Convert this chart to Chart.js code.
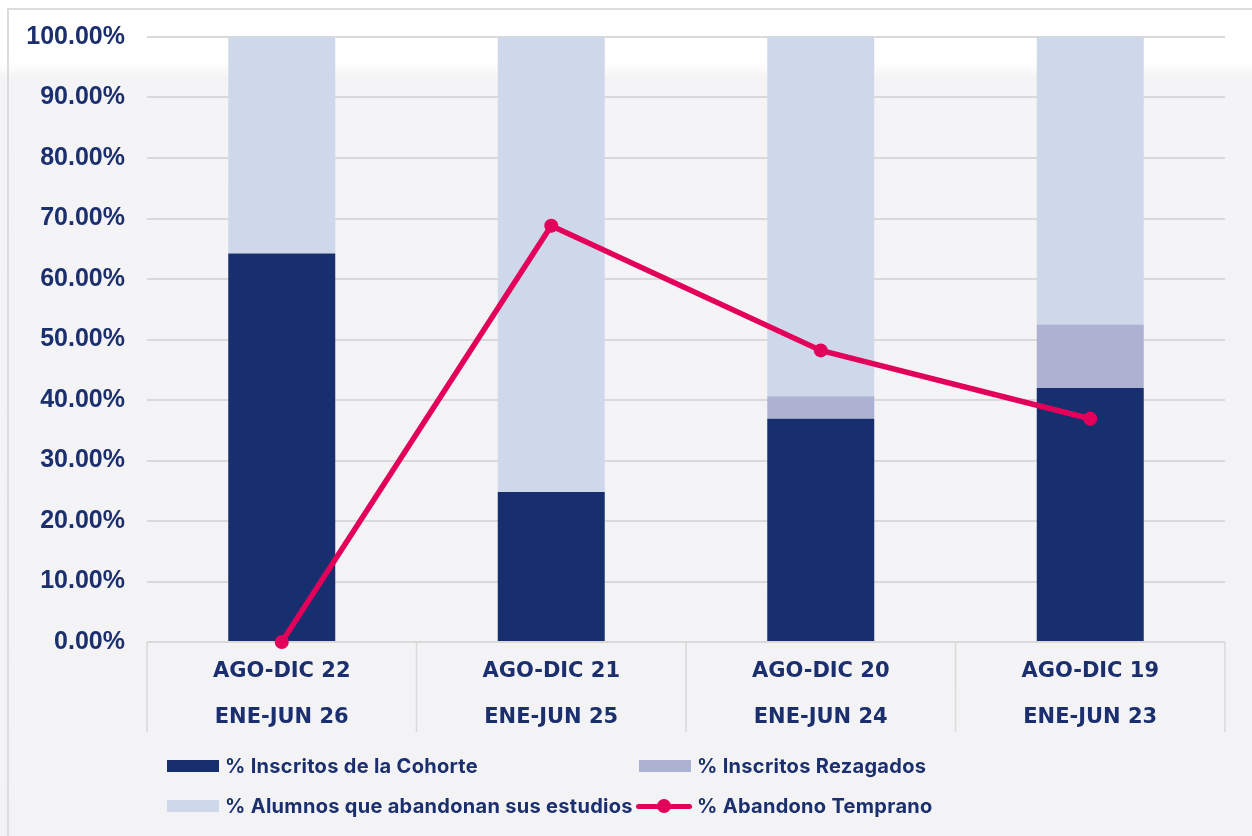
<!DOCTYPE html>
<html>
<head>
<meta charset="utf-8">
<script src="https://cdn.jsdelivr.net/npm/chart.js@4.4.1/dist/chart.umd.min.js"></script>
<style>
  html, body { margin: 0; padding: 0; }
  body {
    width: 1252px; height: 836px; overflow: hidden; position: relative;
    background: linear-gradient(180deg, #ffffff 0px, #ffffff 62px, #f4f4f6 78px, #f3f3f5 836px);
    font-family: "Inter", "Liberation Sans", sans-serif;
  }
  #frame { position: absolute; left: 7px; top: 8px; width: 1300px; height: 900px;
    border-left: 2px solid #dcdcdc; border-top: 2px solid #dcdcdc; }
  #wrap { position: absolute; left: 0; top: 0; width: 1252px; height: 836px; }
  .lg { position: absolute; display: flex; align-items: center; height: 30px;
    font: 700 20px "Inter", sans-serif; letter-spacing: 0.3px; color: #1b2f6e; white-space: nowrap; }
  .sw { width: 52px; height: 12px; margin-right: 6px; flex: none; }
  .ln { position: relative; width: 56px; height: 14px; margin-right: 5px; flex: none; }
  .ln::before { content: ""; position: absolute; left: 0; right: 0; top: 5px; height: 5px; background: #e2005a; border-radius: 3px; }
  .ln::after { content: ""; position: absolute; left: 21px; top: 0; width: 14px; height: 14px; border-radius: 50%; background: #e2005a; }
</style>
</head>
<body>
<div id="frame"></div>
<div id="wrap"><canvas id="c" width="1252" height="836"></canvas></div>
<div id="legend"></div>
<script>
const categories = [["AGO-DIC 22", "ENE-JUN 26"], ["AGO-DIC 21", "ENE-JUN 25"], ["AGO-DIC 20", "ENE-JUN 24"], ["AGO-DIC 19", "ENE-JUN 23"]];
const inscritosCohorte = [64.2, 24.8, 36.9, 42.0];
const inscritosRezagados = [0, 0, 3.7, 10.5];
const alumnosAbandonan = [35.8, 75.2, 59.4, 47.5];
const abandonoTemprano = [0, 68.8, 48.2, 36.9];
const seriesNames = ["% Inscritos de la Cohorte", "% Inscritos Rezagados", "% Alumnos que abandonan sus estudios", "% Abandono Temprano"];
const yTicks = [0, 10, 20, 30, 40, 50, 60, 70, 80, 90, 100];

const NAVY = "#172f6e", REZ = "#adb1d2", LIGHT = "#cfd8ea", PINK = "#e2005a", TXT = "#1b2f6e", GRID = "#d9d9d9";

// Draws the category separators below the x axis (at category boundaries from the x scale)
const separators = {
  id: "separators",
  beforeDatasetsDraw(chart) {
    const x = chart.scales.x, ctx = chart.ctx, top = chart.chartArea.bottom;
    const n = chart.data.labels.length;
    ctx.save();
    ctx.strokeStyle = GRID;
    ctx.lineWidth = 1.5;
    for (let i = 0; i <= n; i++) {
      let px;
      if (i === 0) px = x.getPixelForValue(0) - (x.getPixelForValue(1) - x.getPixelForValue(0)) / 2;
      else if (i === n) px = x.getPixelForValue(n - 1) + (x.getPixelForValue(n - 1) - x.getPixelForValue(n - 2)) / 2;
      else px = (x.getPixelForValue(i - 1) + x.getPixelForValue(i)) / 2;
      ctx.beginPath();
      ctx.moveTo(px, top);
      ctx.lineTo(px, top + 90);
      ctx.stroke();
    }
    ctx.restore();
  }
};

new Chart(document.getElementById("c"), {
  type: "bar",
  data: {
    labels: categories,
    datasets: [
      { type: "line", label: seriesNames[3], data: abandonoTemprano, borderColor: PINK, backgroundColor: PINK,
        borderWidth: 5.5, pointRadius: 7, pointHoverRadius: 7, pointBackgroundColor: PINK, pointBorderWidth: 0,
        tension: 0, order: 0, stack: "line", clip: false },
      { label: seriesNames[0], data: inscritosCohorte, backgroundColor: NAVY, order: 1, stack: "s" },
      { label: seriesNames[1], data: inscritosRezagados, backgroundColor: REZ, order: 1, stack: "s" },
      { label: seriesNames[2], data: alumnosAbandonan, backgroundColor: LIGHT, order: 1, stack: "s" }
    ]
  },
  options: {
    responsive: false,
    animation: false,
    layout: { padding: { left: 0, right: 27, top: 37, bottom: 88 } },
    datasets: { bar: { barPercentage: 0.397, categoryPercentage: 1 } },
    plugins: { legend: { display: false }, tooltip: { enabled: false } },
    scales: {
      x: {
        stacked: true,
        border: { display: false },
        grid: { offset: true, drawOnChartArea: false, drawTicks: false },
        ticks: { color: TXT, padding: 7, font: { family: "DejaVu Sans", weight: "bold", size: 21, lineHeight: 46 / 21 }, maxRotation: 0, autoSkip: false }
      },
      y: {
        stacked: true,
        min: 0, max: 100,
        afterFit: (s) => { s.width = 147; },
        afterBuildTicks: (s) => { s.ticks = yTicks.map(v => ({ value: v })); },
        border: { display: false },
        grid: { color: GRID, lineWidth: 2, drawTicks: false },
        ticks: { color: TXT, padding: 22, font: { family: "Liberation Sans", weight: "bold", size: 25 },
          callback: (v) => Number(v).toFixed(2) + "%" }
      }
    }
  },
  plugins: [separators]
});

const legendItems = [
  { name: seriesNames[0], kind: "box", color: NAVY, left: 167, top: 751 },
  { name: seriesNames[1], kind: "box", color: REZ, left: 639, top: 751 },
  { name: seriesNames[2], kind: "box", color: LIGHT, left: 167, top: 791 },
  { name: seriesNames[3], kind: "line", color: PINK, left: 636, top: 791 }
];
const lg = document.getElementById("legend");
legendItems.forEach(it => {
  const d = document.createElement("div");
  d.className = "lg";
  d.style.left = it.left + "px";
  d.style.top = it.top + "px";
  const sw = document.createElement("span");
  if (it.kind === "box") { sw.className = "sw"; sw.style.background = it.color; }
  else { sw.className = "ln"; }
  d.appendChild(sw);
  const t = document.createElement("span");
  t.textContent = it.name;
  d.appendChild(t);
  lg.appendChild(d);
});
</script>
</body>
</html>
